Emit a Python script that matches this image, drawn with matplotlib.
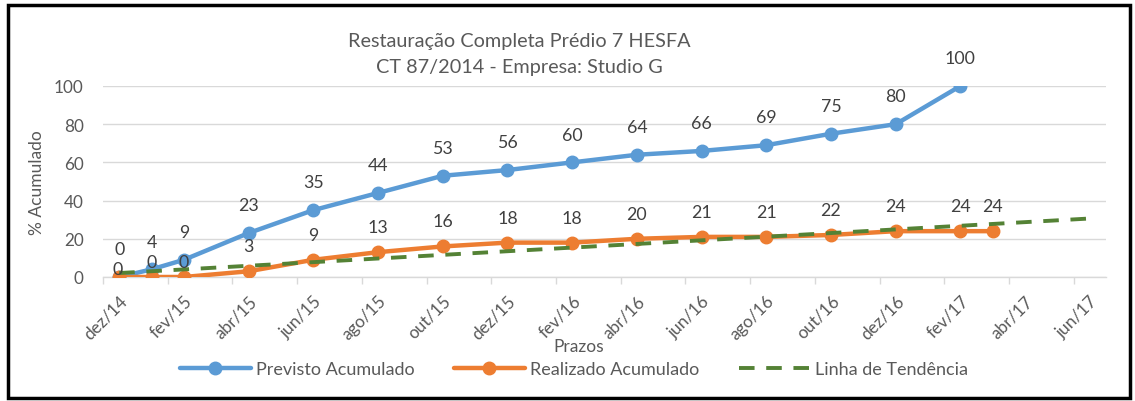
import numpy as np
import matplotlib
matplotlib.use("Agg")
import matplotlib.pyplot as plt
from matplotlib.patches import Rectangle

plt.rcParams['font.family'] = ['Lato', 'DejaVu Sans']

# ---- data ----
months = ["dez/14", "jan/15", "fev/15", "mar/15", "abr/15", "mai/15", "jun/15", "jul/15",
          "ago/15", "set/15", "out/15", "nov/15", "dez/15", "jan/16", "fev/16", "mar/16",
          "abr/16", "mai/16", "jun/16", "jul/16", "ago/16", "set/16", "out/16", "nov/16",
          "dez/16", "jan/17", "fev/17", "mar/17", "abr/17", "mai/17", "jun/17"]
previsto_idx = [0, 1, 2, 4, 6, 8, 10, 12, 14, 16, 18, 20, 22, 24, 26]
previsto_val = [0, 4, 9, 23, 35, 44, 53, 56, 60, 64, 66, 69, 75, 80, 100]
realizado_idx = [0, 1, 2, 4, 6, 8, 10, 12, 14, 16, 18, 20, 22, 24, 26, 27]
realizado_val = [0, 0, 0, 3, 9, 13, 16, 18, 18, 20, 21, 21, 22, 24, 24, 24]
title_lines = ["Restauração Completa Prédio 7 HESFA", "CT 87/2014 - Empresa: Studio G"]

W, H = 1135, 402
fig = plt.figure(figsize=(W / 100, H / 100), dpi=100)
ax = fig.add_axes([103 / W, 1 - 278 / H, (1106 - 103) / W, (278 - 87) / H])

TXT = "#595959"
LBL = "#404040"
C_PREV = "#5B9BD5"
C_REAL = "#ED7D31"
C_TREND = "#548235"

# trend line (linear fit of realizado, forecast to the end of the axis)
coef = np.polyfit(realizado_idx, realizado_val, 1)
tx = np.arange(len(months))
ax.plot(tx, np.polyval(coef, tx), color=C_TREND, lw=2.8, ls=(0, (4, 3)), zorder=4,
        label="Linha de Tendência", dash_capstyle="butt")

ax.plot(previsto_idx, previsto_val, color=C_PREV, lw=3.2, marker='o', ms=9,
        zorder=3, label="Previsto Acumulado", solid_capstyle="round")
ax.plot(realizado_idx, realizado_val, color=C_REAL, lw=3.2, marker='o', ms=9,
        zorder=3, label="Realizado Acumulado", solid_capstyle="round")

for x, v in zip(previsto_idx, previsto_val):
    ax.annotate(str(v), (x, v), xytext=(0, 20), textcoords="offset points",
                ha="center", va="center", fontsize=12.8, color=LBL, zorder=6,
                annotation_clip=False)
for x, v in zip(realizado_idx, realizado_val):
    if v > 0:
        dy = 18
    elif x == 0:
        dy = 6
    else:
        dy = 11
    ax.annotate(str(v), (x, v), xytext=(-1 if x == 0 else 0, dy), textcoords="offset points",
                ha="center", va="center", fontsize=12.8, color=LBL, zorder=6,
                annotation_clip=False)

ax.set_xlim(-0.5, len(months) - 0.5)
ax.set_ylim(0, 100)
ax.set_yticks([0, 20, 40, 60, 80, 100])
ax.grid(axis='y', color="#D9D9D9", lw=1)
ax.set_axisbelow(True)
for s in ["top", "right", "left"]:
    ax.spines[s].set_visible(False)
ax.spines["bottom"].set_color("#D9D9D9")
ax.spines["bottom"].set_linewidth(1)

ax.set_xticks(range(0, len(months), 2))
ax.set_xticklabels(months[::2], rotation=45, ha="right", rotation_mode="anchor")
ax.set_xticks(np.arange(-0.5, len(months), 2), minor=True)
ax.tick_params(axis='x', which='major', length=0, pad=11, labelsize=12.3, labelcolor=TXT)
ax.tick_params(axis='x', which='minor', length=5, color="#D9D9D9", width=1)
ax.tick_params(axis='y', length=0, pad=14, labelsize=12.3, labelcolor=TXT)

ax.set_xlabel("Prazos", fontsize=12.5, color=TXT, labelpad=-3)
ax.xaxis.label.set_x((579 - 103) / (1106 - 103))
ax.set_ylabel("% Acumulado", fontsize=12.5, color=TXT, labelpad=6)

fig.text(519 / W, 1 - 42 / H, title_lines[0], ha="center", va="center", fontsize=14.3, color=TXT)
fig.text(519 / W, 1 - 67 / H, title_lines[1], ha="center", va="center", fontsize=14.3, color=TXT)

handles, labels = ax.get_legend_handles_labels()
order = [1, 2, 0]
leg = fig.legend([handles[i] for i in order], [labels[i] for i in order],
                 loc="center", bbox_to_anchor=(574 / W, 1 - 370 / H), ncol=3,
                 frameon=False, fontsize=13, handlelength=3.9, columnspacing=2.2,
                 handletextpad=0.3, labelcolor=TXT)

fig.patches.append(Rectangle((8 / W, 3 / H), (1130 - 8) / W, (396 - 3) / H,
                             transform=fig.transFigure, fill=False,
                             edgecolor="black", lw=2.5))

fig.savefig("out.png", dpi=100)
